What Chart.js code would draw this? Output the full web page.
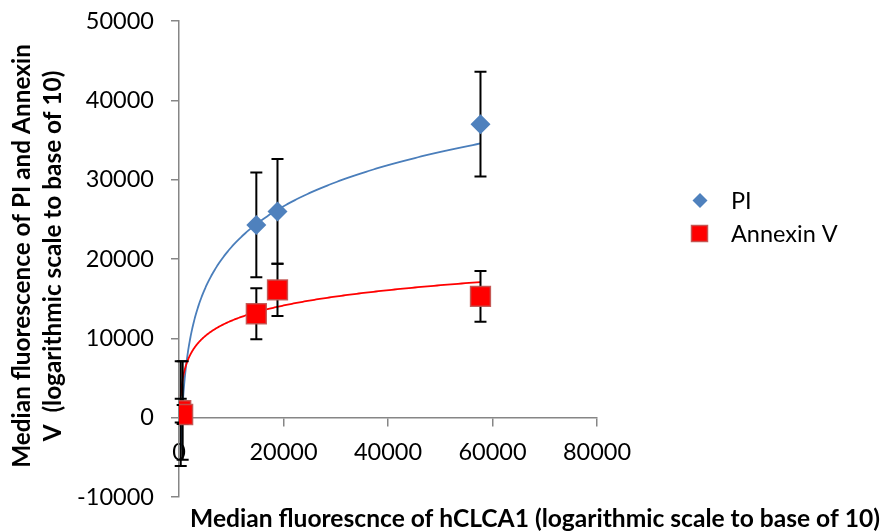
<!DOCTYPE html>
<html>
<head>
<meta charset="utf-8">
<script src="https://cdn.jsdelivr.net/npm/chart.js@4.4.1/dist/chart.umd.min.js"></script>
<style>
  html, body { margin: 0; padding: 0; background: #fff; }
  #wrap { width: 885px; height: 531px; position: relative; }
</style>
</head>
<body>
<div id="wrap"><canvas id="chart"></canvas></div>
<script>
// values
const piX = [330, 700, 14800, 18850, 57700];
const piY = [500, 900, 24300, 26000, 37000];
const piErr = [6600, 6200, 6600, 6600, 6600];
const annX = [330, 700, 14800, 18850, 57700];
const annY = [900, 400, 13100, 16100, 15300];
const annErr = [1500, 1200, 3200, 3300, 3200];

// logarithmic trendlines y = a*ln(x) + b, coefficients
const piTrend = { a: 7467, b: -47300 };
const annTrend = { a: 2785, b: -13442 };

const xTicks = [0, 20000, 40000, 60000, 80000];
const yTicks = [-10000, 0, 10000, 20000, 30000, 40000, 50000];

const seriesNames = ['PI', 'Annexin V'];
const xTitle = 'Median fluorescnce of hCLCA1 (logarithmic scale to base of 10)';
const yTitle = ['Median fluorescence of PI and Annexin', 'V  (logarithmic scale to base of 10)'];

const BLUE = '#4F81BD';
const BLUE_LINE = '#4A7EBB';
const RED = '#FF0000';
const RED_EDGE = 'rgba(192,80,77,0.9)';
const AXIS = '#868686';
const TICK_SIZE = 23.5;

Chart.defaults.font.family = 'Lato';
Chart.defaults.color = '#000';

function drawTrend(ctx, x, y, trend, xs, color) {
    const lo = Math.min(...xs), hi = Math.max(...xs);
    ctx.beginPath();
    for (let i = 0; i <= 400; i++) {
        const v = lo * Math.pow(hi / lo, i / 400);
        const px = x.getPixelForValue(v);
        const py = y.getPixelForValue(trend.a * Math.log(v) + trend.b);
        if (i === 0) ctx.moveTo(px, py); else ctx.lineTo(px, py);
    }
    ctx.strokeStyle = color;
    ctx.lineWidth = 1.8;
    ctx.stroke();
}

// bold title text scaled so it spans the same width as in the picture
function fitText(ctx, text, width) {
    ctx.font = 'bold 20px Lato';
    const size = 20 * width / ctx.measureText(text).width;
    ctx.font = 'bold ' + size.toFixed(2) + 'px Lato';
}

const extras = {
    id: 'extras',
    beforeDatasetsDraw(chart) {
        const { ctx, chartArea: ca, scales: { x, y } } = chart;
        ctx.save();
        ctx.beginPath();
        ctx.rect(ca.left, ca.top, ca.width, ca.height);
        ctx.clip();
        drawTrend(ctx, x, y, piTrend, piX, BLUE_LINE);
        drawTrend(ctx, x, y, annTrend, annX, RED);
        ctx.restore();

        // error bars
        ctx.save();
        ctx.strokeStyle = '#000';
        ctx.lineWidth = 2;
        [[piX, piY, piErr], [annX, annY, annErr]].forEach(([xs, ys, es]) => {
            xs.forEach((v, i) => {
                const px = x.getPixelForValue(v);
                const top = y.getPixelForValue(ys[i] + es[i]);
                const bot = y.getPixelForValue(ys[i] - es[i]);
                ctx.beginPath();
                ctx.moveTo(px, top); ctx.lineTo(px, bot);
                ctx.moveTo(px - 6, top); ctx.lineTo(px + 6, top);
                ctx.moveTo(px - 6, bot); ctx.lineTo(px + 6, bot);
                ctx.stroke();
            });
        });
        ctx.restore();
    },
    afterDraw(chart) {
        const { ctx } = chart;
        ctx.save();
        ctx.fillStyle = '#000';
        ctx.textAlign = 'center';
        ctx.textBaseline = 'middle';
        fitText(ctx, xTitle, 690);
        ctx.fillText(xTitle, 535, 519);

        fitText(ctx, yTitle[0], 424);
        ctx.save();
        ctx.translate(22, 256);
        ctx.rotate(-Math.PI / 2);
        ctx.fillText(yTitle[0], 0, 0);
        ctx.restore();
        ctx.save();
        ctx.translate(53, 256);
        ctx.rotate(-Math.PI / 2);
        ctx.fillText(yTitle[1], 0, 0);
        ctx.restore();

        // legend
        ctx.font = TICK_SIZE + 'px Lato';
        ctx.textAlign = 'left';
        ctx.fillStyle = BLUE;
        ctx.beginPath();
        ctx.moveTo(700, 193); ctx.lineTo(707.5, 200.5); ctx.lineTo(700, 208); ctx.lineTo(692.5, 200.5);
        ctx.closePath();
        ctx.fill();
        ctx.fillStyle = RED;
        ctx.fillRect(691.5, 225.5, 16, 16);
        ctx.strokeStyle = RED_EDGE;
        ctx.lineWidth = 1.5;
        ctx.strokeRect(691.5, 225.5, 16, 16);
        ctx.fillStyle = '#000';
        ctx.fillText(seriesNames[0], 731, 201);
        ctx.fillText(seriesNames[1], 731, 234);
        ctx.restore();
    }
};

new Chart(document.getElementById('chart'), {
    type: 'scatter',
    data: {
        datasets: [
            {
                label: seriesNames[0],
                data: piX.map((v, i) => ({ x: v, y: piY[i] })),
                pointStyle: 'rectRot',
                pointRadius: 10,
                backgroundColor: BLUE,
                borderColor: BLUE,
                borderWidth: 0,
                order: 2
            },
            {
                label: seriesNames[1],
                data: annX.map((v, i) => ({ x: v, y: annY[i] })),
                pointStyle: 'rect',
                pointRadius: 14,
                backgroundColor: RED,
                borderColor: RED_EDGE,
                borderWidth: 1.5,
                order: 1
            }
        ]
    },
    options: {
        responsive: true,
        maintainAspectRatio: false,
        animation: false,
        events: [],
        layout: { padding: { left: 0, top: 21, right: 288, bottom: 34 } },
        plugins: { legend: { display: false }, tooltip: { enabled: false } },
        scales: {
            x: {
                type: 'linear',
                position: { y: 0 },
                min: 0,
                max: 80000,
                afterBuildTicks: s => { s.ticks = xTicks.map(v => ({ value: v })); },
                afterFit: s => { s.paddingLeft = 0; s.paddingRight = 0; },
                ticks: { font: { size: TICK_SIZE }, padding: 13, maxRotation: 0, callback: v => String(v) },
                grid: { drawOnChartArea: false, drawTicks: true, tickLength: 8, color: AXIS, lineWidth: 1.5 },
                border: { color: AXIS, width: 1.5 }
            },
            y: {
                type: 'linear',
                position: 'left',
                min: -10000,
                max: 50000,
                afterBuildTicks: s => { s.ticks = yTicks.map(v => ({ value: v })); },
                afterFit: s => { s.width = 179; s.paddingTop = 0; s.paddingBottom = 0; },
                ticks: { font: { size: TICK_SIZE }, padding: 17, callback: v => String(v) },
                grid: { drawOnChartArea: false, drawTicks: true, tickLength: 8, color: AXIS, lineWidth: 1.5 },
                border: { color: AXIS, width: 1.5 }
            }
        }
    },
    plugins: [extras]
});
</script>
</body>
</html>
